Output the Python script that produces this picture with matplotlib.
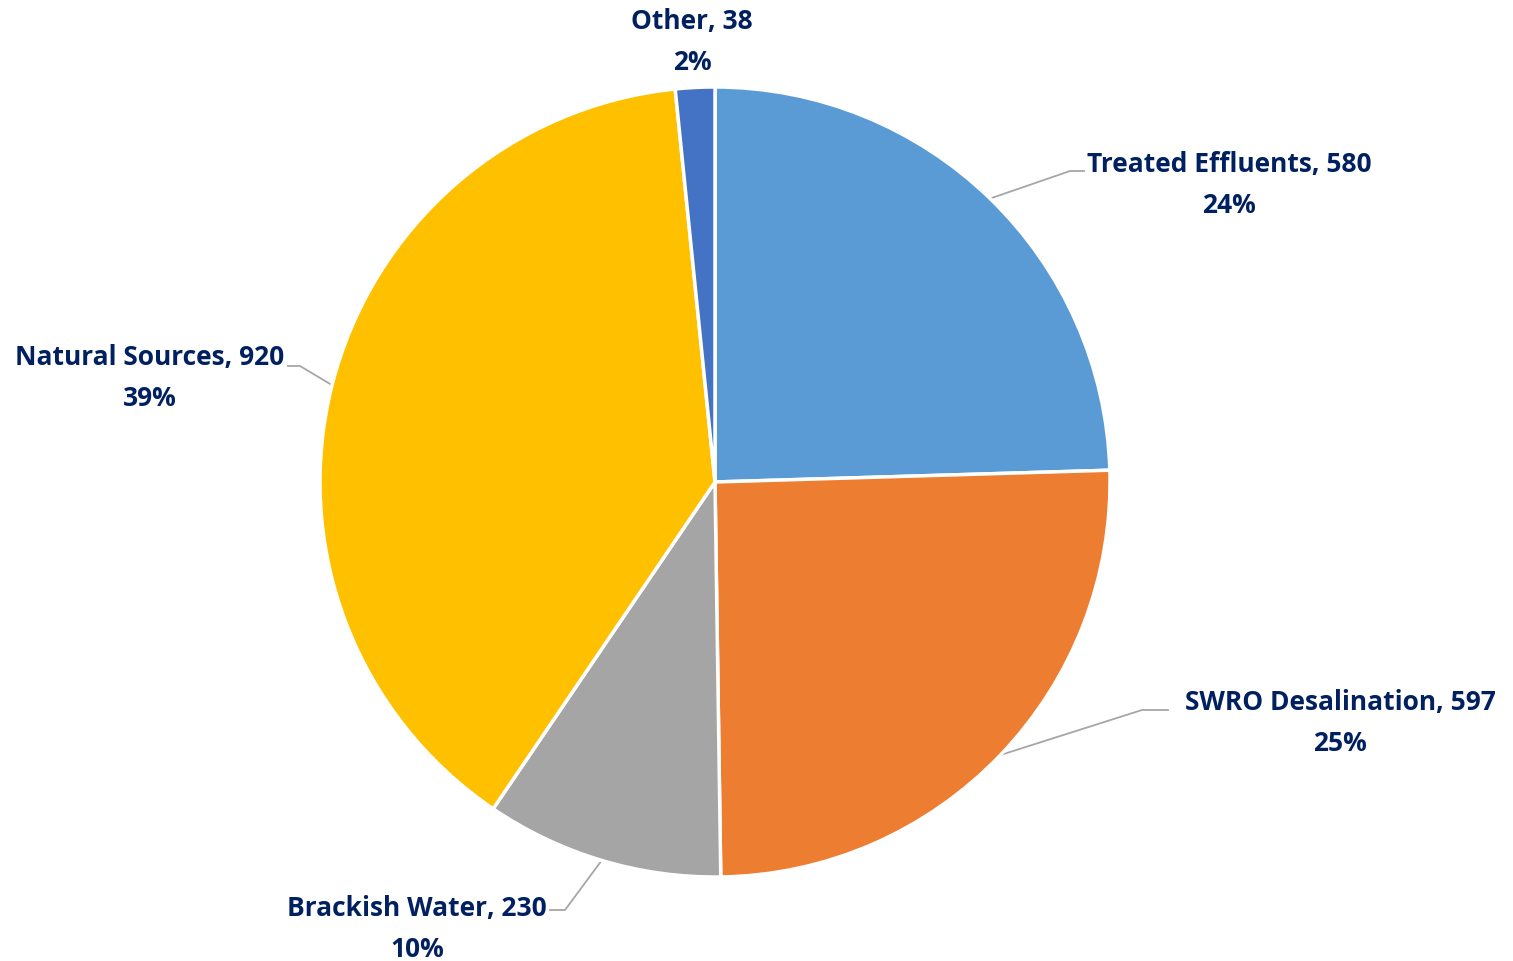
#!/usr/bin/env python3
"""Water supply sources pie chart."""

import numpy as np
import matplotlib.pyplot as plt

W, H, DPI = 1513, 962, 100

categories = ["Treated Effluents", "SWRO Desalination", "Brackish Water",
              "Natural Sources", "Other"]
values = [580, 597, 230, 920, 38]
pct_labels = [24, 25, 10, 39, 2]
colors = ["#5B9BD5", "#ED7D31", "#A5A5A5", "#FFC000", "#4472C4"]

TEXT_COLOR = "#002060"
LEADER_COLOR = "#A6A6A6"

# pie centre and radius in pixels
CX, CY, R = 715, 483, 395


def px(x, y):
    return (x - CX) / R, (CY - y) / R


# label centres (pixels) and leader elbow / end points (pixels); None = no leader
label_pos = [(1229, 185), (1340, 723), (417, 929), (150, 378), (692, 42)]
leader_pts = [
    [(1070, 172), (1084, 172)],
    [(1142, 711), (1168, 711)],
    [(565, 911), (550, 911)],
    [(300, 367), (288, 367)],
    None,
]

fig = plt.figure(figsize=(W / DPI, H / DPI), dpi=DPI)
ax = fig.add_axes([0, 0, 1, 1])

wedges, _ = ax.pie(values, colors=colors, startangle=90, counterclock=False,
                   radius=1, wedgeprops=dict(edgecolor="white", linewidth=2.5))

for w, cat, v, pct, lp, lead in zip(wedges, categories, values, pct_labels,
                                    label_pos, leader_pts):
    x, y = px(*lp)
    ax.text(x, y, f"{cat}, {v}\n{pct}%", ha="center", va="center",
            fontsize=19, fontweight="bold", family="Open Sans",
            color=TEXT_COLOR, linespacing=1.62)
    if lead is not None:
        ang = np.deg2rad((w.theta1 + w.theta2) / 2)
        xs = [np.cos(ang)] + [px(*p)[0] for p in lead]
        ys = [np.sin(ang)] + [px(*p)[1] for p in lead]
        ax.plot(xs, ys, color=LEADER_COLOR, linewidth=1.3, zorder=0)

ax.set_xlim(px(0, 0)[0], px(W, 0)[0])
ax.set_ylim(px(0, H)[1], px(0, 0)[1])
ax.set_aspect("auto")
ax.axis("off")

fig.savefig("out.png", dpi=DPI)
